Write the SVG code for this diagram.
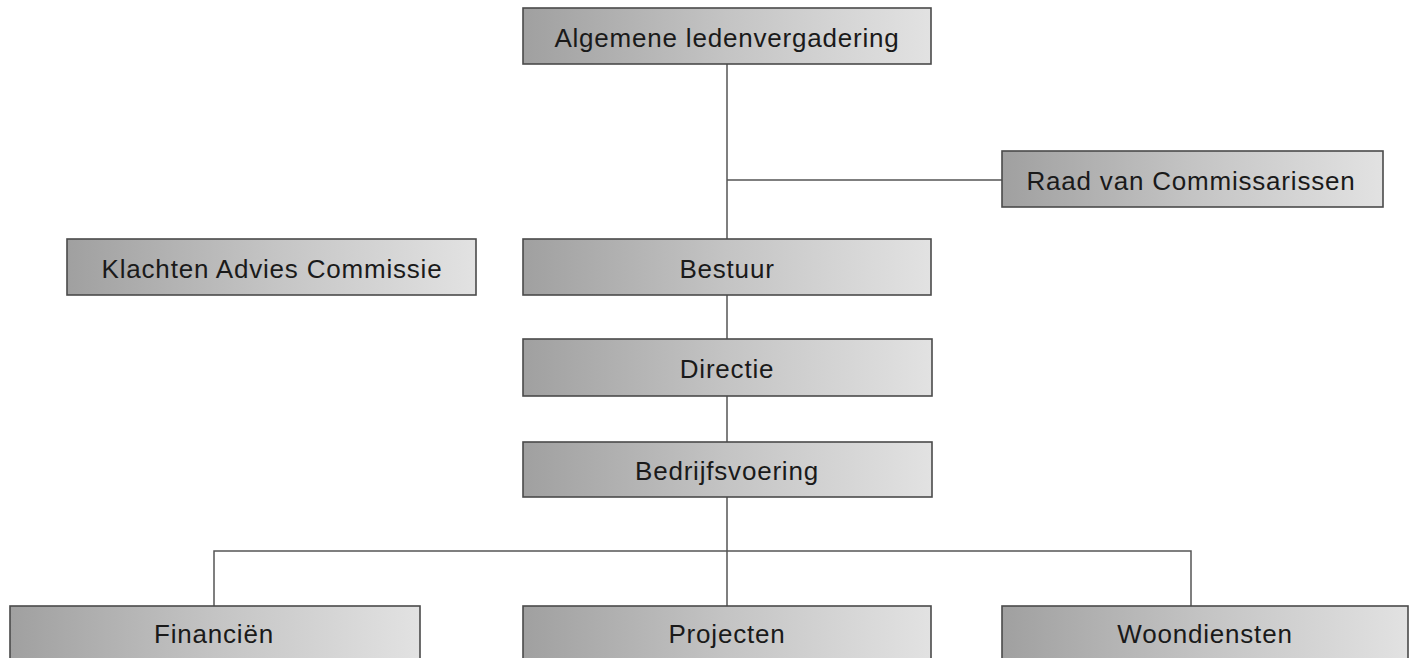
<svg xmlns="http://www.w3.org/2000/svg" width="1413" height="658" viewBox="0 0 1413 658">
<defs>
<linearGradient id="g" x1="0" y1="0" x2="1" y2="0">
<stop offset="0" stop-color="#a0a0a0"/>
<stop offset="0.5" stop-color="#c4c4c4"/>
<stop offset="1" stop-color="#e2e2e2"/>
</linearGradient>
</defs>
<style>
.box{fill:url(#g);stroke:#4a4a4a;stroke-width:1.6}
.t{font-family:"Liberation Sans",Arial,sans-serif;font-size:26px;letter-spacing:0.8px;fill:#1a1a1a;text-anchor:middle;dominant-baseline:central}
.c{fill:none;stroke:#555;stroke-width:1.5}
</style>
<rect width="1413" height="658" fill="#fff"/>
<g id="connectors">
<path class="c" d="M727 64V239"/>
<path class="c" d="M727 180H1002"/>
<path class="c" d="M727 295V339"/>
<path class="c" d="M727 396V442"/>
<path class="c" d="M727 497V606"/>
<path class="c" d="M214 606V551H1191V606"/>
</g>
<g id="n-alv"><rect class="box" x="523" y="8" width="408" height="56"/><text class="t" x="727" y="38">Algemene ledenvergadering</text></g>
<g id="n-rvc"><rect class="box" x="1002" y="151" width="381" height="56"/><text class="t" x="1191" y="181">Raad van Commissarissen</text></g>
<g id="n-kac"><rect class="box" x="67" y="239" width="409" height="56"/><text class="t" x="272" y="269">Klachten Advies Commissie</text></g>
<g id="n-bestuur"><rect class="box" x="523" y="239" width="408" height="56"/><text class="t" x="727" y="269">Bestuur</text></g>
<g id="n-directie"><rect class="box" x="523" y="339" width="409" height="57"/><text class="t" x="727" y="369">Directie</text></g>
<g id="n-bedrijf"><rect class="box" x="523" y="442" width="409" height="55"/><text class="t" x="727" y="471">Bedrijfsvoering</text></g>
<g id="n-fin"><rect class="box" x="10" y="606" width="410" height="60"/><text class="t" x="214" y="634">Financiën</text></g>
<g id="n-proj"><rect class="box" x="523" y="606" width="408" height="60"/><text class="t" x="727" y="634">Projecten</text></g>
<g id="n-woon"><rect class="box" x="1002" y="606" width="406" height="60"/><text class="t" x="1205" y="634">Woondiensten</text></g>
</svg>
